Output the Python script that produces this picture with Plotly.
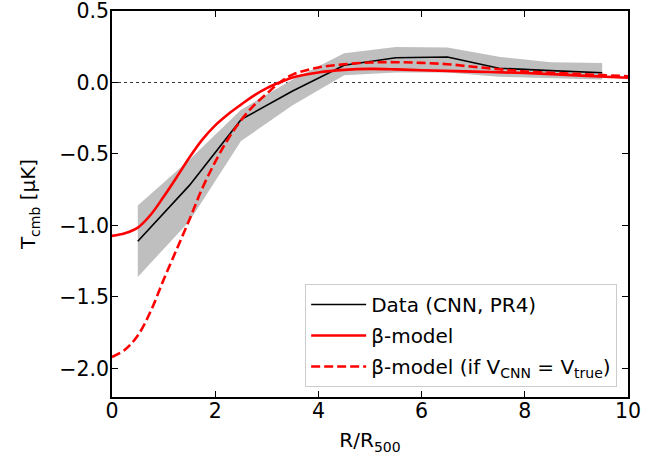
import plotly.graph_objects as go

# Data (CNN, PR4) radial profile
r_data = [0.5, 1.5, 2.5, 3.5, 4.5, 5.5, 6.5, 7.5, 8.5, 9.5]
t_data = [-1.11, -0.72, -0.26, -0.06, 0.12, 0.173, 0.178, 0.10, 0.083, 0.068]
t_upper = [-0.86, -0.54, -0.19, 0.02, 0.205, 0.248, 0.245, 0.18, 0.142, 0.137]
t_lower = [-1.36, -0.97, -0.41, -0.16, 0.05, 0.07, 0.07, 0.04, 0.03, 0.02]

# beta-model curve
r_beta = [0, 0.25, 0.5, 0.75, 1.0, 1.25, 1.5, 1.75, 2.0, 2.25, 2.5, 2.75, 3.0, 3.25,
          3.5, 4.0, 4.5, 5.0, 5.5, 6.0, 7.0, 8.0, 9.0, 10.0]
t_beta = [-1.073, -1.055, -1.015, -0.925, -0.80, -0.665, -0.525, -0.40, -0.30, -0.222,
          -0.155, -0.092, -0.04, 0.0, 0.035, 0.07, 0.088, 0.095, 0.092, 0.086, 0.076,
          0.066, 0.05, 0.033]

# beta-model if V_CNN = V_true
r_beta2 = [0, 0.25, 0.5, 0.75, 1.0, 1.25, 1.5, 1.75, 2.0, 2.25, 2.5, 2.75, 3.0, 3.25,
           3.5, 4.0, 4.5, 5.0, 5.5, 6.0, 6.5, 7.0, 7.5, 8.0, 9.0, 10.0]
t_beta2 = [-1.92, -1.87, -1.77, -1.60, -1.38, -1.17, -0.96, -0.74, -0.555, -0.395, -0.265,
           -0.16, -0.078, 0.0, 0.055, 0.105, 0.127, 0.14, 0.142, 0.137, 0.128, 0.11,
           0.093, 0.077, 0.06, 0.044]

x_ticks = [0, 2, 4, 6, 8, 10]
y_ticks = [-2.0, -1.5, -1.0, -0.5, 0.0, 0.5]

FONT = "DejaVu Sans"

fig = go.Figure()

# shaded band
fig.add_trace(go.Scatter(
    x=r_data + r_data[::-1], y=t_upper + t_lower[::-1],
    fill="toself", fillcolor="#bfbfbf", line=dict(width=0),
    hoverinfo="skip", showlegend=False, mode="lines"))

fig.add_trace(go.Scatter(
    x=r_data, y=t_data, mode="lines", line=dict(color="black", width=1.6),
    name="Data (CNN, PR4)", legendgroup="a"))

fig.add_trace(go.Scatter(
    x=r_beta, y=t_beta, mode="lines", line=dict(color="#ff0000", width=2.6, shape="spline"),
    name="β-model", legendgroup="b"))

fig.add_trace(go.Scatter(
    x=r_beta2, y=t_beta2, mode="lines",
    line=dict(color="#ff0000", width=2.6, dash="9px,4px", shape="spline"),
    name="β-model (if V<sub>CNN</sub> = V<sub>true</sub>)", legendgroup="c"))

fig.add_hline(y=0, line=dict(color="black", width=0.8, dash="dot"), layer="below")

axis_common = dict(
    showline=True, linecolor="black", linewidth=1.5, mirror="ticks",
    ticks="inside", ticklen=6, tickwidth=1.2, tickcolor="black",
    showgrid=False, zeroline=False, automargin=False, ticklabeloverflow="allow",
    tickfont=dict(family=FONT, size=20.5, color="black"),
)

fig.update_xaxes(range=[0, 10], tickvals=x_ticks, ticktext=[str(v) for v in x_ticks],
                 ticklabelstandoff=-5,
                 title=dict(text="R/R<sub>500</sub>", font=dict(family=FONT, size=20, color="black"),
                            standoff=11),
                 **axis_common)
fig.update_yaxes(range=[-2.2, 0.5], tickvals=y_ticks, tickformat=".1f",
                 ticklabelstandoff=-3,
                 title=dict(text="T<sub>cmb</sub> [μK]", font=dict(family=FONT, size=20, color="black"),
                            standoff=18),
                 **axis_common)

fig.update_layout(
    width=665, height=461,
    margin=dict(l=112, r=37, t=11, b=64),
    paper_bgcolor="white", plot_bgcolor="white",
    font=dict(family=FONT, color="black"),
    legend=dict(
        x=0.979, y=0.026, xanchor="right", yanchor="bottom",
        bgcolor="rgba(255,255,255,0.8)", bordercolor="#cccccc", borderwidth=1,
        font=dict(family=FONT, size=20, color="black"),
        traceorder="grouped", tracegroupgap=2, itemwidth=55,
    ),
)

fig.write_html(
    "out.html",
    config={"displayModeBar": False},
    post_script="document.body.style.margin='0px';document.body.style.overflow='hidden';",
)
